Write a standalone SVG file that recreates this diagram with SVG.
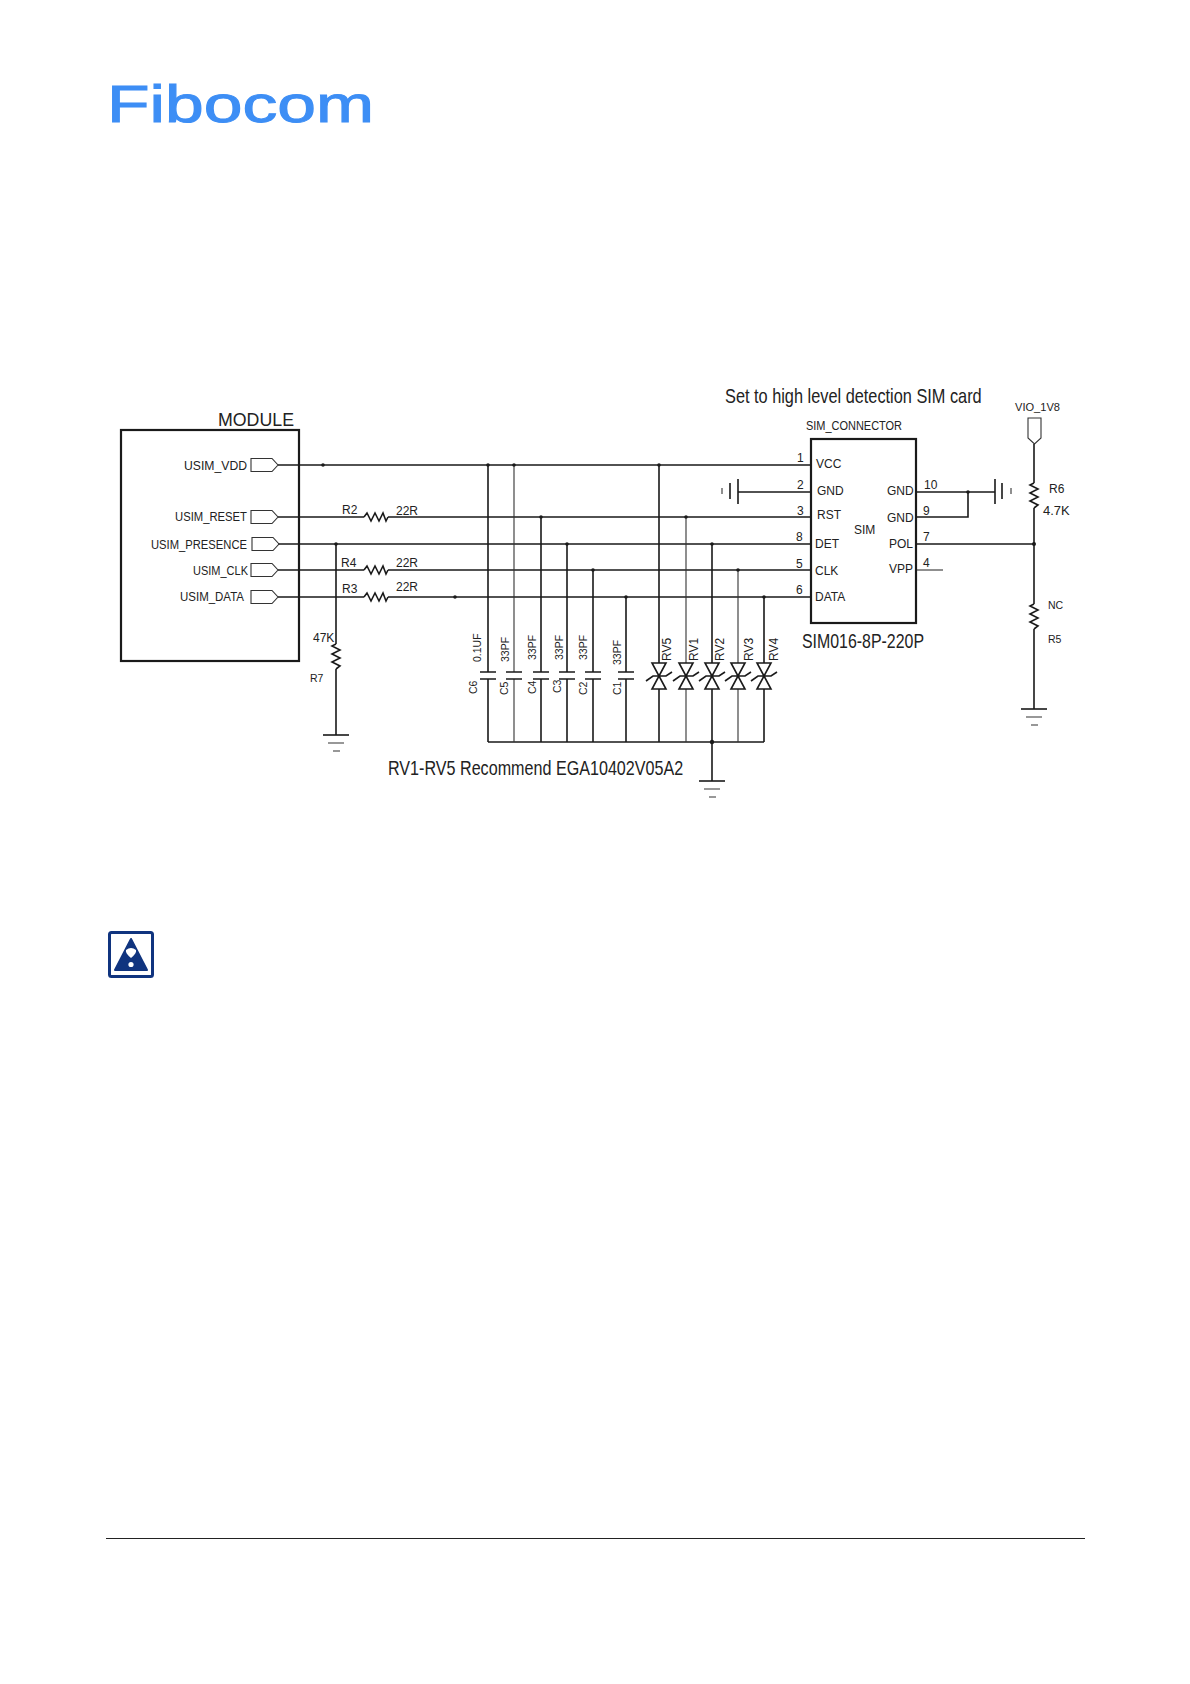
<svg xmlns="http://www.w3.org/2000/svg" width="1190" height="1684" viewBox="0 0 1190 1684">
<style>
text{font-family:"Liberation Sans",Arial,sans-serif;fill:#222}
.s{font-size:12px}.m{font-size:10.500px}.l{font-size:20px}
.w{fill:none;stroke:#1a1a1a;stroke-width:1.6}
.t{fill:none;stroke:#333;stroke-width:1.100}
.b{fill:none;stroke:#1a1a1a;stroke-width:2.200}
.d{fill:#1a1a1a}
</style>
<defs>
<path id="port" class="t" d="M0-6.500H21L27 0L21 6.500H0Z"/>
<path id="rh" class="w" d="M0 0L3 -4L7 4L11 -4L15 4L19 -4L22 4L24 0"/>
<path id="rv" class="w" d="M0 0L-4 2L4 6L-4 10L4 14L-4 18L4 22L0 25"/>
<g id="gnd"><path class="w" d="M-13 0H13"/><path class="t" d="M-8 8H8M-3 16H4"/></g>
<g id="cap"><path class="w" d="M-8 0H8M-8 7H8"/></g>
<g id="tvs"><path class="w" d="M-7-13H7L-7 13H7ZM-13 5L-6 0H7L13-4"/></g>
</defs>
<g id="logo"><text x="107" y="122" font-size="52" textLength="267" lengthAdjust="spacingAndGlyphs" stroke="#3d8ef5" stroke-width="1" style="fill:#3d8ef5;font-family:'Liberation Sans',sans-serif">Fibocom</text></g>
<g id="warning-icon">
<rect x="109.500" y="932.500" width="43" height="44" rx="2" fill="#fff" stroke="#10347f" stroke-width="3"/>
<path d="M131 939L147 970H115Z" fill="#10347f" stroke="#10347f" stroke-width="2" stroke-linejoin="round"/>
<path d="M126 950Q131 946 136 950Q137 953 131 958Q125 953 126 950Z" fill="#fff"/><circle cx="131" cy="964.500" r="2.600" fill="#fff"/>
</g>
<g id="connectors">
<path class="w" d="M278 465H811M278 517H364M388 517H811M278 544H811M278 570H364M388 570H811M278 597H364M388 597H811"/>
<path class="w" d="M738 492H811M916 492H995M916 517H968V492M916 544H1034M1034 444V483M1034 508V604M1034 629V709"/>
<path class="t" d="M916 570H943"/>
<path class="w" d="M336 544V644M336 669V735"/>
<path class="w" d="M488 465V672M488 679V742M541 517V672M541 679V742M567 544V672M567 679V742M593 570V672M593 679V742M626 597V672M626 679V742M659 465V663M659 689V742M712 544V663M712 689V781M764 597V663M764 689V742M488 742H764"/>
<path class="t" d="M514 465V672M514 679V742M686 517V663M686 689V742M738 570V663M738 689V742"/>
<g class="d"><circle cx="323" cy="465" r="1.800"/><circle cx="336" cy="544" r="1.800"/><circle cx="455" cy="597" r="1.800"/><circle cx="488" cy="465" r="1.800"/><circle cx="514" cy="465" r="1.800"/><circle cx="659" cy="465" r="1.800"/><circle cx="541" cy="517" r="1.800"/><circle cx="686" cy="517" r="1.800"/><circle cx="567" cy="544" r="1.800"/><circle cx="712" cy="544" r="1.800"/><circle cx="593" cy="570" r="1.800"/><circle cx="738" cy="570" r="1.800"/><circle cx="626" cy="597" r="1.800"/><circle cx="764" cy="597" r="1.800"/><circle cx="712" cy="742" r="2.200"/><circle cx="968" cy="492" r="1.800"/><circle cx="1034" cy="544" r="2"/></g>
</g>
<g id="module">
<rect class="b" x="121" y="430" width="178" height="231"/>
<text x="218" y="426" font-size="18" textLength="76" lengthAdjust="spacingAndGlyphs">MODULE</text>
<use href="#port" x="251" y="465"/><text class="s" x="184" y="470" textLength="63" lengthAdjust="spacingAndGlyphs">USIM_VDD</text>
<use href="#port" x="251" y="517"/><text class="s" x="175" y="521" textLength="72" lengthAdjust="spacingAndGlyphs">USIM_RESET</text>
<use href="#port" x="252" y="544"/><text class="s" x="151" y="549" textLength="96" lengthAdjust="spacingAndGlyphs">USIM_PRESENCE</text>
<use href="#port" x="251" y="570"/><text class="s" x="193" y="575" textLength="55" lengthAdjust="spacingAndGlyphs">USIM_CLK</text>
<use href="#port" x="251" y="597"/><text class="s" x="180" y="601" textLength="64" lengthAdjust="spacingAndGlyphs">USIM_DATA</text>
</g>
<g id="R2"><use href="#rh" x="364" y="517"/><text class="s" x="342" y="514">R2</text><text class="s" x="396" y="515">22R</text></g>
<g id="R4"><use href="#rh" x="364" y="570"/><text class="s" x="341" y="567">R4</text><text class="s" x="396" y="567">22R</text></g>
<g id="R3"><use href="#rh" x="364" y="597"/><text class="s" x="342" y="593">R3</text><text class="s" x="396" y="591">22R</text></g>
<g id="R7"><use href="#rv" x="336" y="644"/><text class="s" x="313" y="642">47K</text><text class="m" x="310" y="682">R7</text><use href="#gnd" x="336" y="735"/></g>
<g id="C6"><use href="#cap" x="488" y="672"/><text class="m" transform="translate(481 662) rotate(-90)">0.1UF</text><text class="m" transform="translate(477 694) rotate(-90)">C6</text></g>
<g id="C5"><use href="#cap" x="514" y="672"/><text class="m" transform="translate(509 662) rotate(-90)">33PF</text><text class="m" transform="translate(508 695) rotate(-90)">C5</text></g>
<g id="C4"><use href="#cap" x="541" y="672"/><text class="m" transform="translate(536 660) rotate(-90)">33PF</text><text class="m" transform="translate(536 694) rotate(-90)">C4</text></g>
<g id="C3"><use href="#cap" x="567" y="672"/><text class="m" transform="translate(563 660) rotate(-90)">33PF</text><text class="m" transform="translate(561 693) rotate(-90)">C3</text></g>
<g id="C2"><use href="#cap" x="593" y="672"/><text class="m" transform="translate(587 660) rotate(-90)">33PF</text><text class="m" transform="translate(587 695) rotate(-90)">C2</text></g>
<g id="C1"><use href="#cap" x="626" y="672"/><text class="m" transform="translate(621 665) rotate(-90)">33PF</text><text class="m" transform="translate(621 695) rotate(-90)">C1</text></g>
<g id="RV5"><use href="#tvs" x="659" y="676"/><text class="s" transform="translate(671 661) rotate(-90)">RV5</text></g>
<g id="RV1"><use href="#tvs" x="686" y="676"/><text class="s" transform="translate(698 661) rotate(-90)">RV1</text></g>
<g id="RV2"><use href="#tvs" x="712" y="676"/><text class="s" transform="translate(724 661) rotate(-90)">RV2</text></g>
<g id="RV3"><use href="#tvs" x="738" y="676"/><text class="s" transform="translate(753 661) rotate(-90)">RV3</text></g>
<g id="RV4"><use href="#tvs" x="764" y="676"/><text class="s" transform="translate(778 661) rotate(-90)">RV4</text></g>
<g id="gnd-rv"><use href="#gnd" x="712" y="781"/></g>
<text class="l" transform="translate(388 775) scale(.807 1)">RV1-RV5 Recommend EGA10402V05A2</text>
<text class="l" transform="translate(725 403) scale(.816 1)">Set to high level detection SIM card</text>
<g id="sim-connector">
<rect class="b" x="811" y="439" width="105" height="184"/>
<text class="s" x="806" y="430" textLength="96" lengthAdjust="spacingAndGlyphs">SIM_CONNECTOR</text>
<text class="l" x="802" y="648" textLength="122" lengthAdjust="spacingAndGlyphs">SIM016-8P-220P</text>
<text class="s" x="854" y="534">SIM</text>
<text class="s" x="797" y="462">1</text><text class="s" x="797" y="489">2</text><text class="s" x="797" y="515">3</text><text class="s" x="796" y="541">8</text><text class="s" x="796" y="568">5</text><text class="s" x="796" y="594">6</text>
<text class="s" x="924" y="489">10</text><text class="s" x="923" y="515">9</text><text class="s" x="923" y="541">7</text><text class="s" x="923" y="567">4</text>
<text class="s" x="816" y="468">VCC</text><text class="s" x="817" y="495">GND</text><text class="s" x="817" y="519">RST</text><text class="s" x="815" y="548">DET</text><text class="s" x="815" y="575">CLK</text><text class="s" x="815" y="601">DATA</text>
<text class="s" x="887" y="495">GND</text><text class="s" x="887" y="522">GND</text><text class="s" x="889" y="548">POL</text><text class="s" x="889" y="573">VPP</text>
</g>
<g id="gnd-left"><path class="w" d="M738 479V504M730 483V499"/><path class="t" d="M722 488V494"/></g>
<g id="gnd-right"><path class="w" d="M995 479V504M1002 483V499"/><path class="t" d="M1011 488V494"/></g>
<g id="R6"><use href="#rv" x="1034" y="483"/><text class="s" x="1049" y="493">R6</text><text x="1043" y="515" font-size="13">4.7K</text></g>
<g id="R5"><use href="#rv" x="1034" y="604"/><text class="m" x="1048" y="609">NC</text><text class="m" x="1048" y="643">R5</text><use href="#gnd" x="1034" y="709"/></g>
<g id="VIO_1V8"><path class="t" d="M1028 418H1041V438L1034.500 444L1028 438Z"/><text class="m" x="1015" y="411" textLength="45" lengthAdjust="spacingAndGlyphs">VIO_1V8</text></g>
<path id="footer-rule" d="M106 1538.500H1085" stroke="#222" stroke-width="1" fill="none"/>
</svg>
